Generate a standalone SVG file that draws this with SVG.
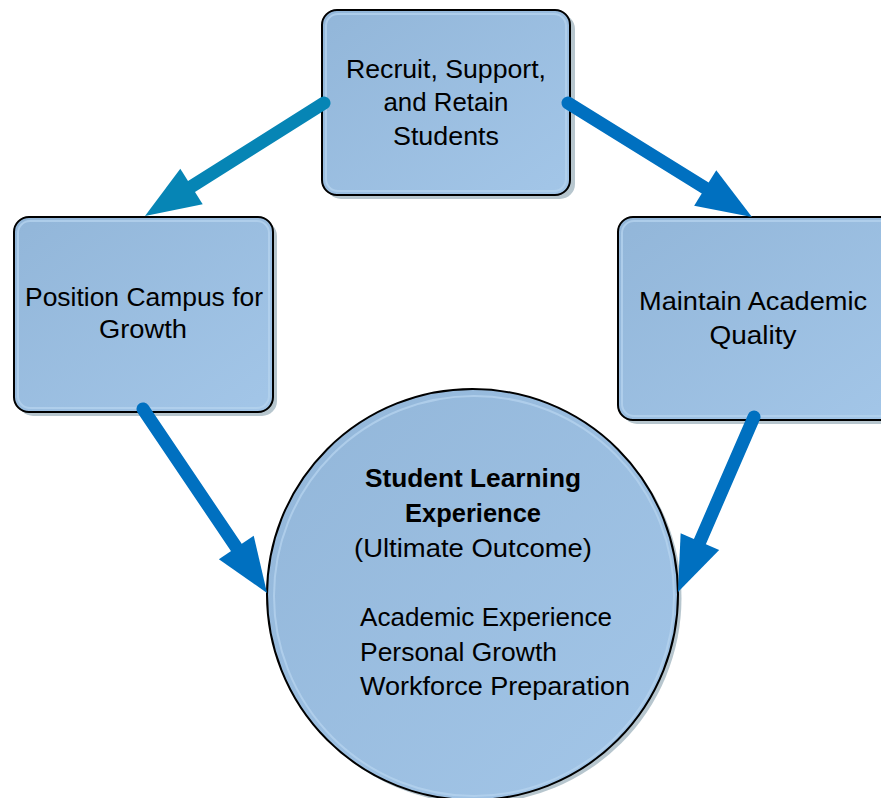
<svg xmlns="http://www.w3.org/2000/svg" width="881" height="798" viewBox="0 0 881 798">
<defs>
<linearGradient id="fillg" x1="0" y1="0" x2="1" y2="1">
<stop offset="0" stop-color="#92b6d9"/>
<stop offset="1" stop-color="#a3c6e8"/>
</linearGradient>
<marker id="headTeal" markerUnits="userSpaceOnUse" markerWidth="60" markerHeight="46" refX="0" refY="23" orient="auto" overflow="visible">
<path d="M0,2 L55,23 L0,44 Z" fill="#0685b5"/>
</marker>
<marker id="headBlue" markerUnits="userSpaceOnUse" markerWidth="60" markerHeight="46" refX="0" refY="23" orient="auto" overflow="visible">
<path d="M0,2 L55,23 L0,44 Z" fill="#0070c0"/>
</marker>
</defs>
<style>
.shadow{fill:#b7c6ce}
.box{fill:url(#fillg);stroke:#000;stroke-width:2}
.bevel{fill:none;stroke:#b4d2ee;stroke-width:2;opacity:0.8}
.t{font-family:"Liberation Sans",Arial,sans-serif;font-size:25px;fill:#000}
.c{text-anchor:middle}
.b{font-weight:bold}
.conn{fill:none;stroke-width:13;stroke-linecap:round}
</style>
<rect width="881" height="798" fill="#fff"/>

<g id="node-recruit">
<rect class="shadow" x="326" y="14" width="249" height="185" rx="15"/>
<rect class="box" x="322" y="10" width="248" height="185" rx="15"/>
<rect class="bevel" x="326" y="14" width="240" height="177" rx="12"/>
<text class="t c" x="446" y="78" textLength="200" lengthAdjust="spacingAndGlyphs">Recruit, Support,</text>
<text class="t c" x="446" y="111" textLength="125" lengthAdjust="spacingAndGlyphs">and Retain</text>
<text class="t c" x="446" y="145" textLength="106" lengthAdjust="spacingAndGlyphs">Students</text>
</g>

<g id="node-position">
<rect class="shadow" x="18" y="221" width="259" height="195" rx="15"/>
<rect class="box" x="14" y="217" width="259" height="195" rx="15"/>
<rect class="bevel" x="18" y="221" width="251" height="187" rx="12"/>
<text class="t c" x="144" y="306" textLength="238" lengthAdjust="spacingAndGlyphs">Position Campus for</text>
<text class="t c" x="143" y="338" textLength="88" lengthAdjust="spacingAndGlyphs">Growth</text>
</g>

<g id="node-maintain">
<rect class="shadow" x="622" y="221" width="280" height="203" rx="15"/>
<rect class="box" x="618" y="217" width="280" height="203" rx="15"/>
<rect class="bevel" x="622" y="221" width="272" height="195" rx="12"/>
<text class="t c" x="753" y="310" textLength="228" lengthAdjust="spacingAndGlyphs">Maintain Academic</text>
<text class="t c" x="753" y="344" textLength="87" lengthAdjust="spacingAndGlyphs">Quality</text>
</g>

<g id="node-student">
<circle class="shadow" cx="476" cy="598" r="205.5"/>
<circle class="box" cx="472.5" cy="594.5" r="205.5"/>
<circle class="bevel" cx="474" cy="596" r="200"/>
<text class="t c b" x="473" y="487" textLength="216" lengthAdjust="spacingAndGlyphs">Student Learning</text>
<text class="t c b" x="473" y="522" textLength="136" lengthAdjust="spacingAndGlyphs">Experience</text>
<text class="t c" x="473" y="557" textLength="238" lengthAdjust="spacingAndGlyphs">(Ultimate Outcome)</text>
<text class="t" x="360" y="626" textLength="252" lengthAdjust="spacingAndGlyphs">Academic Experience</text>
<text class="t" x="360" y="661" textLength="197" lengthAdjust="spacingAndGlyphs">Personal Growth</text>
<text class="t" x="360" y="695" textLength="270" lengthAdjust="spacingAndGlyphs">Workforce Preparation</text>
</g>

<g id="connectors">
<line class="conn" stroke="#0685b5" x1="324" y1="103" x2="191.5" y2="186.6" marker-end="url(#headTeal)"/>
<line class="conn" stroke="#0070c0" x1="568" y1="103" x2="705.2" y2="188" marker-end="url(#headBlue)"/>
<line class="conn" stroke="#0070c0" x1="143" y1="409" x2="236.3" y2="547.4" marker-end="url(#headBlue)"/>
<line class="conn" stroke="#0070c0" x1="754" y1="417" x2="699.9" y2="541.6" marker-end="url(#headBlue)"/>
</g>
</svg>
